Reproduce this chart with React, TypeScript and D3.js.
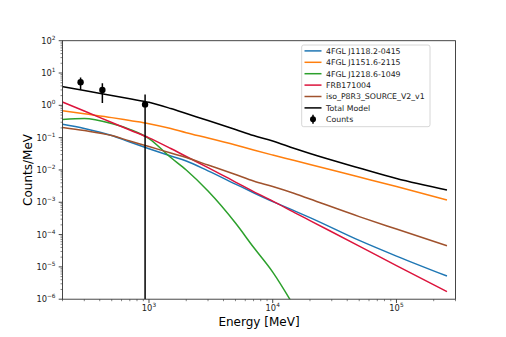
import { useRef, useEffect } from 'react';
import * as d3 from 'd3';

const energies = [200, 300, 500, 700, 1000, 1500, 2000, 3000, 5000, 7000, 10000, 15000, 20000, 50000, 100000, 256000];

const fgl1118 = [0.258, 0.191, 0.116, 0.0731, 0.0453, 0.0269, 0.0189, 0.00938, 0.00366, 0.00197, 0.00105, 5.42e-4, 3.36e-4, 6.6e-5, 2.16e-5, 5.2e-6];
const fgl1151 = [0.681, 0.546, 0.416, 0.338, 0.271, 0.191, 0.142, 0.0973, 0.059, 0.0413, 0.0289, 0.0195, 0.0147, 0.00603, 0.00306, 0.00117];
const fgl1218 = [0.363, 0.39, 0.273, 0.18, 0.0938, 0.0242, 0.00993, 0.00222, 2.27e-4, 4.04e-5, 6.9e-6, 5.7e-7, null, null, null, null];
const frb = [1.265, 0.667, 0.293, 0.172, 0.0986, 0.046, 0.026, 0.01186, 0.00422, 0.00214, 0.00109, 4.8e-4, 2.71e-4, 4.4e-5, 1.1e-5, 1.72e-6];
const isoBkg = [0.2055, 0.166, 0.116, 0.0785, 0.053, 0.0333, 0.0242, 0.0142, 0.00721, 0.00453, 0.00306, 0.00186, 0.001256, 3.6e-4, 1.48e-4, 4.5e-5];
const totalModel = [3.77, 2.87, 2.01, 1.59, 1.24, 0.796, 0.557, 0.338, 0.178, 0.116, 0.0785, 0.046, 0.0322, 0.01146, 0.00542, 0.00239];

const countEnergies = [280, 420, 930];
const countValues = [5.15, 2.98, 1.07];
const countErrors = [2.1, 1.8, 1.1];

const seriesNames = ['4FGL J1118.2-0415', '4FGL J1151.6-2115', '4FGL J1218.6-1049', 'FRB171004', 'iso_P8R3_SOURCE_V2_v1', 'Total Model'];
const seriesColors = ['#1f77b4', '#ff7f0e', '#2ca02c', '#dc143c', '#a0522d', '#000000'];
const seriesValues = [fgl1118, fgl1151, fgl1218, frb, isoBkg, totalModel];

const xMajor = [1e3, 1e4, 1e5];
const yMajor = [1e-6, 1e-5, 1e-4, 1e-3, 1e-2, 1e-1, 1e0, 1e1, 1e2];

export default function App() {
  const ref = useRef<SVGSVGElement>(null);

  useEffect(() => {
    if (!ref.current) return;
    const width = 506;
    const height = 337;
    const left = 62.5, right = 455.5, top = 40.7, bottom = 299.2;
    const font = 'DejaVu Sans, sans-serif';

    const svg = d3.select(ref.current);
    svg.selectAll('*').remove();

    const x = d3.scaleLog().domain([200, 300000]).range([left, right]);
    const y = d3.scaleLog().domain([1e-6, 1e2]).range([bottom, top]);

    svg.append('defs').append('clipPath').attr('id', 'plot-clip')
      .append('rect').attr('x', left).attr('y', top)
      .attr('width', right - left).attr('height', bottom - top);

    // minor ticks
    const xMinor: number[] = [];
    for (let d = 100; d <= 1e5; d *= 10) for (let k = 2; k <= 9; k++) {
      const v = k * d;
      if (v >= 200 && v <= 300000) xMinor.push(v);
    }
    const yMinor: number[] = [];
    for (let d = 1e-6; d < 1e2; d *= 10) for (let k = 2; k <= 9; k++) yMinor.push(k * d);

    const tickCol = '#333';
    const axisG = svg.append('g');
    axisG.selectAll('line.xmin').data(xMinor).join('line')
      .attr('x1', d => x(d)).attr('x2', d => x(d))
      .attr('y1', bottom).attr('y2', bottom + 2)
      .attr('stroke', tickCol).attr('stroke-width', 0.6);
    axisG.selectAll('line.xmaj').data(xMajor).join('line')
      .attr('x1', d => x(d)).attr('x2', d => x(d))
      .attr('y1', bottom).attr('y2', bottom + 3.8)
      .attr('stroke', tickCol).attr('stroke-width', 0.9);
    axisG.selectAll('line.ymin').data(yMinor).join('line')
      .attr('y1', d => y(d)).attr('y2', d => y(d))
      .attr('x1', left).attr('x2', left - 2)
      .attr('stroke', tickCol).attr('stroke-width', 0.6);
    axisG.selectAll('line.ymaj').data(yMajor).join('line')
      .attr('y1', d => y(d)).attr('y2', d => y(d))
      .attr('x1', left).attr('x2', left - 3.8)
      .attr('stroke', tickCol).attr('stroke-width', 0.9);

    const exp = (d: number) => {
      const e = Math.round(Math.log10(d));
      return e < 0 ? '\u2212' + Math.abs(e) : String(e);
    };

    const xl = svg.append('g').selectAll('text').data(xMajor).join('text')
      .attr('x', d => x(d)).attr('y', bottom + 11.5)
      .attr('text-anchor', 'middle')
      .attr('font-family', font).attr('font-size', 8.3).attr('fill', '#222');
    xl.append('tspan').text('10');
    xl.append('tspan').attr('dy', -4).attr('font-size', 5.8).text(d => exp(d));

    const yl = svg.append('g').selectAll('text').data(yMajor).join('text')
      .attr('x', left - 7).attr('y', d => y(d) + 3)
      .attr('text-anchor', 'end')
      .attr('font-family', font).attr('font-size', 8.3).attr('fill', '#222');
    yl.append('tspan').text('10');
    yl.append('tspan').attr('dy', -4).attr('font-size', 5.8).text(d => exp(d));

    // model curves
    const plot = svg.append('g').attr('clip-path', 'url(#plot-clip)');
    const line = d3.line<[number, number | null]>()
      .defined(d => d[1] != null)
      .x(d => x(d[0]))
      .y(d => y(d[1] as number))
      .curve(d3.curveMonotoneX);

    seriesValues.forEach((vals, i) => {
      plot.append('path')
        .datum(energies.map((e, j) => [e, vals[j]] as [number, number | null]))
        .attr('fill', 'none')
        .attr('stroke', seriesColors[i])
        .attr('stroke-width', 1.5)
        .attr('d', line);
    });

    // counts with error bars
    const counts = countEnergies.map((e, i) => ({ e, v: countValues[i], err: countErrors[i] }));
    plot.selectAll('line.err').data(counts).join('line')
      .attr('x1', d => x(d.e)).attr('x2', d => x(d.e))
      .attr('y1', d => y(d.v + d.err))
      .attr('y2', d => (d.v - d.err > 1e-6 ? y(d.v - d.err) : bottom))
      .attr('stroke', '#000').attr('stroke-width', 1.5);
    plot.selectAll('circle.pt').data(counts).join('circle')
      .attr('cx', d => x(d.e)).attr('cy', d => y(d.v))
      .attr('r', 3.2).attr('fill', '#000');

    // spines
    svg.append('rect')
      .attr('x', left).attr('y', top)
      .attr('width', right - left).attr('height', bottom - top)
      .attr('fill', 'none').attr('stroke', '#333').attr('stroke-width', 0.9);

    // axis labels
    svg.append('text')
      .attr('x', (left + right) / 2).attr('y', 326)
      .attr('text-anchor', 'middle')
      .attr('font-family', font).attr('font-size', 12)
      .text('Energy [MeV]');
    svg.append('text')
      .attr('transform', `translate(32,${(top + bottom) / 2}) rotate(-90)`)
      .attr('text-anchor', 'middle')
      .attr('font-family', font).attr('font-size', 12)
      .text('Counts/MeV');

    // legend
    const lg = svg.append('g');
    lg.append('rect')
      .attr('x', 301.7).attr('y', 45).attr('width', 128.3).attr('height', 81.7)
      .attr('rx', 2).attr('fill', 'white').attr('fill-opacity', 0.8)
      .attr('stroke', '#cccccc').attr('stroke-width', 0.8);
    const rowY = (i: number) => 50.9 + i * 11.4;
    seriesNames.forEach((name, i) => {
      lg.append('line')
        .attr('x1', 304.5).attr('x2', 321.5)
        .attr('y1', rowY(i)).attr('y2', rowY(i))
        .attr('stroke', seriesColors[i]).attr('stroke-width', 1.5);
      lg.append('text')
        .attr('x', 326).attr('y', rowY(i) + 2.9)
        .attr('font-family', font).attr('font-size', 7.8).attr('fill', '#222')
        .text(name);
    });
    const cy = rowY(6);
    lg.append('line').attr('x1', 313).attr('x2', 313).attr('y1', cy - 4.5).attr('y2', cy + 4.5)
      .attr('stroke', '#000').attr('stroke-width', 1.5);
    lg.append('circle').attr('cx', 313).attr('cy', cy).attr('r', 3).attr('fill', '#000');
    lg.append('text')
      .attr('x', 326).attr('y', cy + 2.9)
      .attr('font-family', font).attr('font-size', 7.8).attr('fill', '#222')
      .text('Counts');

    svg.attr('width', width).attr('height', height);
  }, []);

  return (
    <svg
      ref={ref}
      width={506}
      height={337}
      style={{ position: 'absolute', left: 0, top: 0, display: 'block', background: 'white' }}
    />
  );
}
